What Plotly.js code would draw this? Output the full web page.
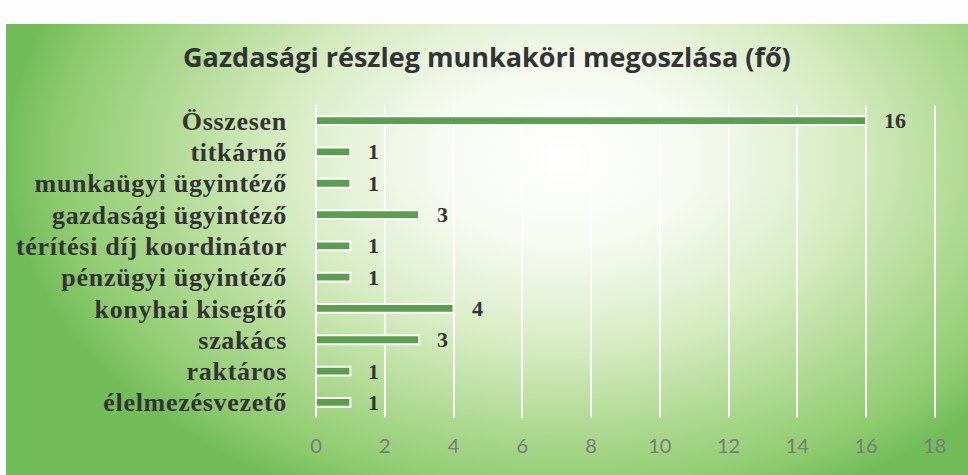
<!DOCTYPE html>
<html>
<head>
<meta charset="utf-8">
<script src="https://cdn.plot.ly/plotly-3.0.1.min.js"></script>
<style>
  html, body { margin: 0; padding: 0; background: #ffffff; }
  #wrap { position: relative; width: 968px; height: 475px; background: #fdfdfd; overflow: hidden; }
  #bg { position: absolute; left: 6px; top: 24px; width: 962px; height: 451px;
        background: radial-gradient(ellipse 58% 82% at 58% 30%, #ffffff 0%, #f6faf1 24%, #d8ecc4 50%, #b0da93 72%, #8fcb70 90%, #72bd5a 100%); }
  #chart { position: absolute; left: 0; top: 0; width: 968px; height: 475px; }
  #chart .ytick text { letter-spacing: 0.7px; }
</style>
</head>
<body>
<div id="wrap">
  <div id="bg"></div>
  <div id="chart"></div>
</div>
<script>
const categories = ["Összesen", "titkárnő", "munkaügyi ügyintéző", "gazdasági ügyintéző",
  "térítési díj koordinátor", "pénzügyi ügyintéző", "konyhai kisegítő", "szakács",
  "raktáros", "élelmezésvezető"];
const values = [16, 1, 1, 3, 1, 1, 4, 3, 1, 1];
const tickValues = [0, 2, 4, 6, 8, 10, 12, 14, 16, 18];
const chartTitle = "Gazdasági részleg munkaköri megoszlása (fő)";

const serif = "Liberation Serif, Times New Roman, serif";
const sans = "Open Sans, Carlito, Calibri, sans-serif";
const tickSans = "Lato, Carlito, Calibri, sans-serif";

const trace = {
  type: "bar",
  orientation: "h",
  y: categories,
  x: values,
  width: 0.28,
  marker: { color: "#5b9e4f", line: { color: "#ffffff", width: 2 } },
  hoverinfo: "x+y"
};

const annotations = categories.map((c, i) => ({
  x: values[i], y: c, xref: "x", yref: "y",
  text: String(values[i]), showarrow: false,
  xanchor: "left", xshift: 16,
  font: { family: serif, size: 22, color: "#333333", weight: "bold" }
}));

const layout = {
  width: 968, height: 475,
  paper_bgcolor: "rgba(0,0,0,0)",
  plot_bgcolor: "rgba(0,0,0,0)",
  margin: { l: 316, r: 28, t: 105, b: 57 },
  title: {
    text: chartTitle,
    x: 0.503, xanchor: "center", y: 0.878, yanchor: "middle",
    font: { family: sans, size: 27, color: "#333333", weight: "bold" }
  },
  showlegend: false,
  xaxis: {
    range: [0, 18.15],
    tickvals: tickValues,
    ticktext: tickValues.map(String),
    showgrid: true, gridcolor: "#ffffff", gridwidth: 2,
    zeroline: true, zerolinecolor: "#ffffff", zerolinewidth: 2,
    showline: false,
    ticks: "",
    ticklabelstandoff: 14,
    tickfont: { family: tickSans, size: 20, color: "#7a7a7a" }
  },
  yaxis: {
    type: "category",
    categoryorder: "array",
    categoryarray: categories,
    autorange: "reversed",
    showgrid: false, zeroline: false, showline: false,
    ticks: "",
    ticklabelstandoff: 28,
    tickfont: { family: serif, size: 26, color: "#333333", weight: "bold" }
  },
  annotations: annotations
};

Plotly.newPlot("chart", [trace], layout, { displayModeBar: false, staticPlot: true });
</script>
</body>
</html>
